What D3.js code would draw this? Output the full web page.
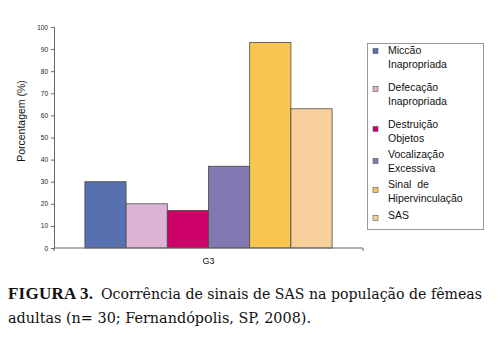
<!DOCTYPE html>
<html><head><meta charset="utf-8">
<script src="https://cdn.jsdelivr.net/npm/d3@7"></script>
<style>body{margin:0;background:#fff}svg{display:block}
.cap{font-family:'DejaVu Serif';font-size:15px;fill:#111}
.capb{font-family:'Liberation Serif','DejaVu Serif',serif;font-size:17px;fill:#111;font-weight:bold}
.sans{font-family:'Liberation Sans',Arial,sans-serif}
</style>
</head><body>
<svg id="c" width="499" height="339"></svg>
<script>
const categories = ["G3"];
const seriesNames = ["Miccão Inapropriada","Defecação Inapropriada","Destruição Objetos","Vocalização Excessiva","Sinal de Hipervinculação","SAS"];
const legendLines = [["Miccão","Inapropriada"],["Defecação","Inapropriada"],["Destruição","Objetos"],["Vocalização","Excessiva"],["Sinal\u00a0 de","Hipervinculação"],["SAS"]];
const values = [30, 20, 17, 37, 93, 63];
const colors = ["#5670B0","#DDB3D3","#CC0066","#8478B2","#F9C74F","#F7D09C"];
const yTicks = [0,10,20,30,40,50,60,70,80,90,100];

(function(){
const svg = d3.select("#c");
const pLeft = 54, pRight = 363, pTop = 27, pBottom = 248;
const y = d3.scaleLinear().domain([0,100]).range([pBottom, pTop]);
const x0 = d3.scaleBand().domain(categories).range([pLeft, pRight]);
const x1 = d3.scaleBand().domain(seriesNames).range([0, x0.bandwidth()]).paddingInner(0).paddingOuter(0.75);

const g = svg.append("g");
categories.forEach(cat => {
  g.selectAll("rect.b").data(seriesNames).enter().append("rect")
    .attr("x", d => x0(cat) + x1(d))
    .attr("y", (d,i) => y(values[i]))
    .attr("width", x1.bandwidth())
    .attr("height", (d,i) => pBottom - y(values[i]))
    .attr("fill", (d,i) => colors[i])
    .attr("stroke", "#4a4a4a").attr("stroke-width", 0.8);
});

const ya = svg.append("g").attr("transform", `translate(${pLeft},0)`)
  .call(d3.axisLeft(y).tickValues(yTicks).tickSize(3).tickPadding(3));
ya.select(".domain").attr("stroke", "#666");
ya.selectAll(".tick line").attr("stroke", "#666");
ya.selectAll(".tick text").attr("class", "sans").attr("font-family", null).attr("font-size", 6.5).attr("fill", "#222");

const xa = svg.append("g").attr("transform", `translate(0,${pBottom})`)
  .call(d3.axisBottom(x0).tickSize(0).tickPadding(10));
xa.select(".domain").attr("stroke", "#666").attr("d", `M${pLeft},3V0H${pRight}V3`);
xa.selectAll(".tick text").attr("class", "sans").attr("font-family", null).attr("font-size", 9).attr("fill", "#111");

svg.append("text").attr("class", "sans").attr("transform", "translate(25,121) rotate(-90)")
  .attr("text-anchor", "middle").attr("font-size", 10.5).attr("fill", "#111").text("Porcentagem (%)");

svg.append("rect").attr("x", 367.5).attr("y", 43.5).attr("width", 116).attr("height", 186)
  .attr("fill", "#fff").attr("stroke", "#999").attr("stroke-width", 1);
const firstLineY = [54, 91, 128, 158, 188, 219];
const markerY = [51, 89, 129, 161, 190, 218];
const lg = svg.append("g");
legendLines.forEach((lines, i) => {
  lg.append("rect").attr("x", 373).attr("y", markerY[i] - 2.5).attr("width", 5).attr("height", 5)
    .attr("fill", colors[i]).attr("stroke", "#555").attr("stroke-width", 0.6);
  lines.forEach((t, j) => {
    lg.append("text").attr("class", "sans").attr("x", 388).attr("y", firstLineY[i] + j * 13.5)
      .attr("font-size", 10.5).attr("fill", "#111").text(t);
  });
});

svg.append("text").attr("class", "capb").attr("x", 8).attr("y", 299)
  .attr("textLength", 85).attr("lengthAdjust", "spacing").text("FIGURA 3.");
svg.append("text").attr("class", "cap").attr("x", 101).attr("y", 299)
  .attr("textLength", 381).attr("lengthAdjust", "spacingAndGlyphs").text("Ocorrência de sinais de SAS na população de fêmeas");
svg.append("text").attr("class", "cap").attr("x", 8).attr("y", 323)
  .attr("textLength", 303).attr("lengthAdjust", "spacingAndGlyphs").text("adultas (n= 30; Fernandópolis, SP, 2008).");
})();
</script>
</body></html>
